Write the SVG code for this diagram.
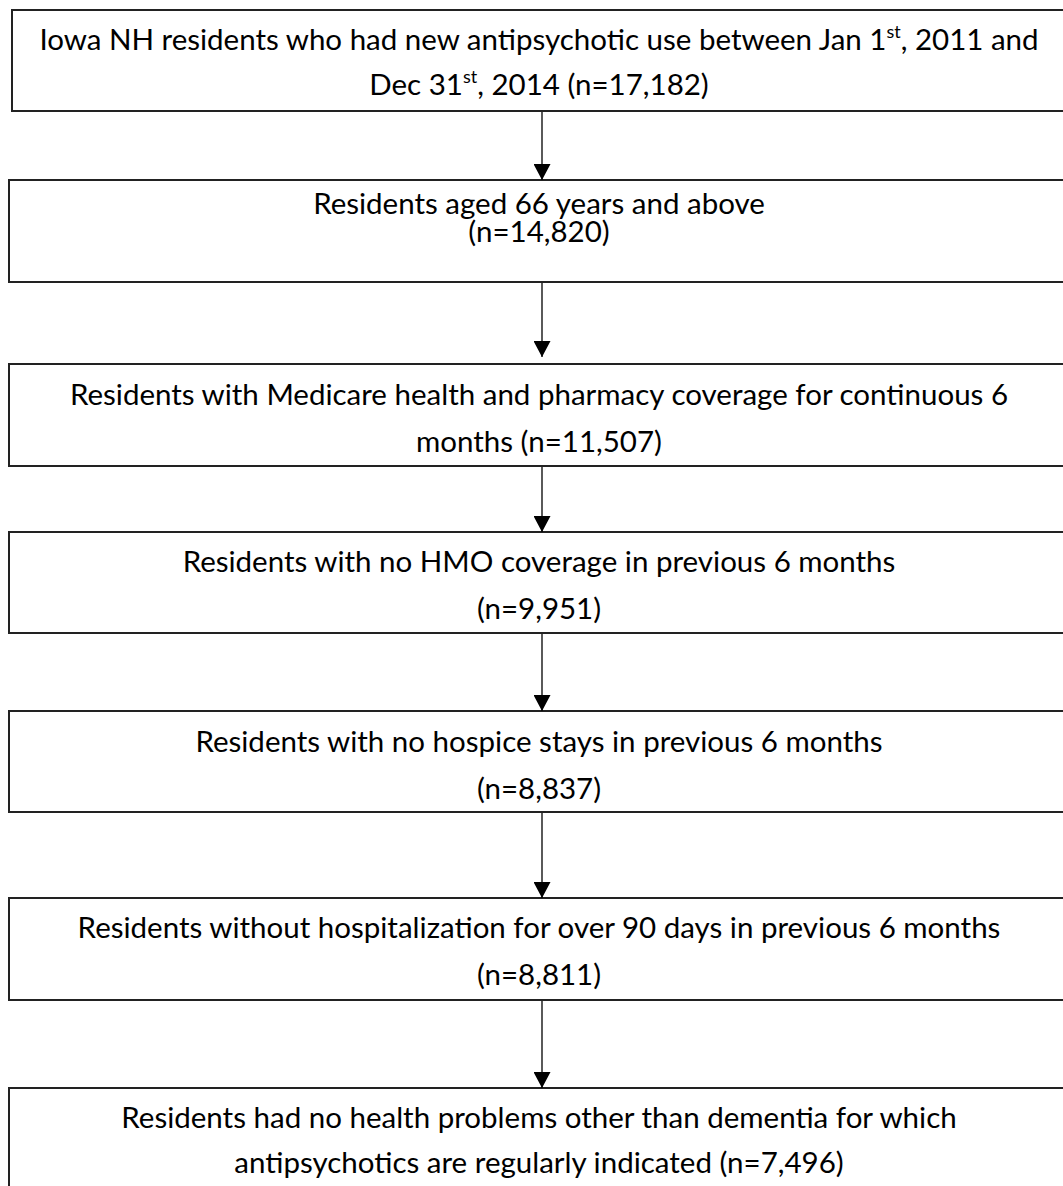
<svg xmlns="http://www.w3.org/2000/svg" width="1063" height="1186" viewBox="0 0 1063 1186">
<style>
.box{fill:#fff;stroke:#222;stroke-width:2}
.t{font-family:Lato,"Liberation Sans",sans-serif;font-size:29.5px;fill:#000;text-anchor:middle}
.sup{font-size:18px}
.c{stroke:#000;stroke-width:1.3;fill:none}
</style>
<defs>
<marker id="ah" markerUnits="userSpaceOnUse" markerWidth="17" markerHeight="17" refX="16" refY="8.5" orient="auto">
<path d="M0,0 L16,8.5 L0,17 z" fill="#000"/>
</marker>
</defs>
<rect width="1063" height="1186" fill="#fff"/>
<g id="n1"><rect class="box" x="12" y="10" width="1070" height="101"/>
<text class="t" x="539" y="50">Iowa NH residents who had new antipsychotic use between Jan 1<tspan class="sup" dy="-12">st</tspan><tspan dy="12">, 2011 and</tspan></text>
<text class="t" x="539" y="95">Dec 31<tspan class="sup" dy="-12">st</tspan><tspan dy="12">, 2014 (n=17,182)</tspan></text></g>
<g id="n2"><rect class="box" x="9" y="180" width="1073" height="102"/>
<text class="t" x="539" y="214">Residents aged 66 years and above</text>
<text class="t" x="539" y="242">(n=14,820)</text></g>
<g id="n3"><rect class="box" x="9" y="364" width="1073" height="102"/>
<text class="t" x="539" y="405">Residents with Medicare health and pharmacy coverage for continuous 6</text>
<text class="t" x="539" y="452">months (n=11,507)</text></g>
<g id="n4"><rect class="box" x="9" y="532" width="1073" height="101"/>
<text class="t" x="539" y="572">Residents with no HMO coverage in previous 6 months</text>
<text class="t" x="539" y="619">(n=9,951)</text></g>
<g id="n5"><rect class="box" x="9" y="711" width="1073" height="101"/>
<text class="t" x="539" y="752">Residents with no hospice stays in previous 6 months</text>
<text class="t" x="539" y="799">(n=8,837)</text></g>
<g id="n6"><rect class="box" x="9" y="898" width="1073" height="102"/>
<text class="t" x="539" y="938">Residents without hospitalization for over 90 days in previous 6 months</text>
<text class="t" x="539" y="985">(n=8,811)</text></g>
<g id="n7"><rect class="box" x="9" y="1088" width="1073" height="120"/>
<text class="t" x="539" y="1128">Residents had no health problems other than dementia for which</text>
<text class="t" x="539" y="1173">antipsychotics are regularly indicated (n=7,496)</text></g>
<g id="connectors">
<line class="c" x1="542" y1="112" x2="542" y2="180" marker-end="url(#ah)"/>
<line class="c" x1="542" y1="283" x2="542" y2="357" marker-end="url(#ah)"/>
<line class="c" x1="542" y1="467" x2="542" y2="532" marker-end="url(#ah)"/>
<line class="c" x1="542" y1="634" x2="542" y2="711" marker-end="url(#ah)"/>
<line class="c" x1="542" y1="813" x2="542" y2="898" marker-end="url(#ah)"/>
<line class="c" x1="542" y1="1001" x2="542" y2="1088" marker-end="url(#ah)"/>
</g>
</svg>
